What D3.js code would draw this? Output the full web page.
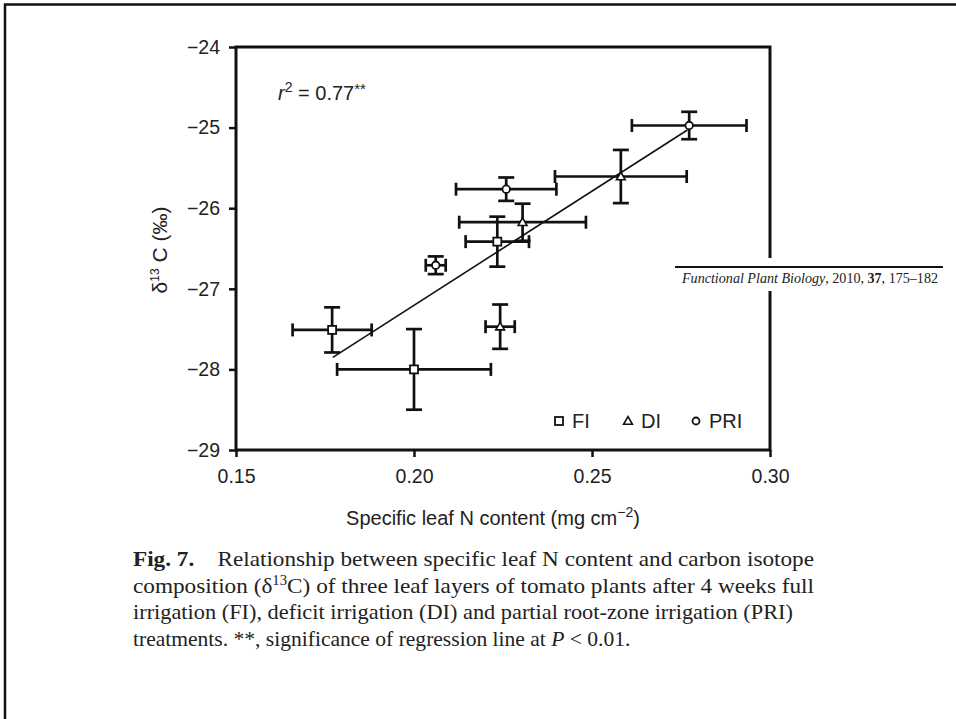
<!DOCTYPE html>
<html>
<head>
<meta charset="utf-8">
<script src="https://cdn.jsdelivr.net/npm/d3@7"></script>
<style>
  html, body { margin: 0; padding: 0; background: #fff; }
  svg { display: block; }
  .sans { font-family: "Liberation Sans", Arial, Helvetica, sans-serif; }
  .serif { font-family: "Liberation Serif", "Times New Roman", serif; }
</style>
</head>
<body>
<svg id="chart" width="956" height="719"></svg>
<script>
// Treatment groups: full (FI), deficit (DI) and partial root-zone (PRI) irrigation
const groups = ["FI", "DI", "PRI"];
const groupShape = ["square", "triangle", "circle"];

// Specific leaf N content (mg cm-2), three leaf layers per treatment
const fiN   = [0.177, 0.200, 0.2234];
const diN   = [0.2305, 0.2581, 0.2242];
const priN  = [0.2259, 0.2773, 0.2061];
// delta 13C (per mil)
const fiC   = [-27.51, -28.00, -26.415];
const diC   = [-26.174, -25.607, -27.47];
const priC  = [-25.764, -24.974, -26.708];
// Error bars: N (x) and delta 13C (y)
const fiNErr  = [0.0111, 0.0216, 0.0089];
const diNErr  = [0.0178, 0.0185, 0.0041];
const priNErr = [0.0141, 0.0161, 0.0028];
const fiCErr  = [0.28, 0.50, 0.31];
const diCErr  = [0.23, 0.33, 0.275];
const priCErr = [0.145, 0.17, 0.11];

// Regression line end points (x, y)
const fitX = [0.1772, 0.2768];
const fitY = [-27.85, -25.03];

// Axis ticks
const xTicks = [0.15, 0.20, 0.25, 0.30];
const yTicks = [-29, -28, -27, -26, -25, -24];

const svg = d3.select("#chart");

// page frame (top and left rules)
svg.append("line").attr("x1", 4).attr("x2", 956).attr("y1", 4.5).attr("y2", 4.5)
  .attr("stroke", "#111").attr("stroke-width", 2.5);
svg.append("line").attr("x1", 5).attr("x2", 5).attr("y1", 4).attr("y2", 719)
  .attr("stroke", "#111").attr("stroke-width", 2.5);

const x = d3.scaleLinear().domain([0.15, 0.30]).range([236, 770]);
const y = d3.scaleLinear().domain([-29, -24]).range([450, 47]);

const fmtMinus = d => d3.format(".0f")(d).replace("-", "\u2013");

// axes
const xAxis = d3.axisBottom(x).tickValues(xTicks).tickFormat(d3.format(".2f"))
  .tickSize(7).tickPadding(12);
const yAxis = d3.axisLeft(y).tickValues(yTicks).tickFormat(fmtMinus)
  .tickSize(7).tickPadding(9);

const gx = svg.append("g").attr("transform", `translate(0,${y(-29)})`).call(xAxis);
const gy = svg.append("g").attr("transform", `translate(${x(0.15)},0)`).call(yAxis);
[gx, gy].forEach(g => {
  g.select(".domain").remove();
  g.selectAll(".tick line").attr("stroke", "#111").attr("stroke-width", 2.5);
  g.selectAll(".tick text").attr("class", "sans").attr("font-size", 19.5).attr("fill", "#222");
});

// plot box
svg.append("rect")
  .attr("x", x(0.15)).attr("y", y(-24))
  .attr("width", x(0.30) - x(0.15)).attr("height", y(-29) - y(-24))
  .attr("fill", "none").attr("stroke", "#111").attr("stroke-width", 3);

// regression line
svg.append("line")
  .attr("x1", x(fitX[0])).attr("y1", y(fitY[0]))
  .attr("x2", x(fitX[1])).attr("y2", y(fitY[1]))
  .attr("stroke", "#111").attr("stroke-width", 1.6);

// points with error bars
const series = [
  { name: groups[0], shape: groupShape[0], n: fiN,  c: fiC,  ne: fiNErr,  ce: fiCErr },
  { name: groups[1], shape: groupShape[1], n: diN,  c: diC,  ne: diNErr,  ce: diCErr },
  { name: groups[2], shape: groupShape[2], n: priN, c: priC, ne: priNErr, ce: priCErr }
];

function drawMarker(g, shape, cx, cy, s) {
  if (shape === "square") {
    g.append("rect").attr("x", cx - s / 2).attr("y", cy - s / 2).attr("width", s).attr("height", s)
      .attr("fill", "#fff").attr("stroke", "#111").attr("stroke-width", 1.8);
  } else if (shape === "triangle") {
    const h = s * 0.9;
    g.append("path")
      .attr("d", `M${cx},${cy - h * 0.6}L${cx + s * 0.55},${cy + h * 0.45}L${cx - s * 0.55},${cy + h * 0.45}Z`)
      .attr("fill", "#fff").attr("stroke", "#111").attr("stroke-width", 1.6);
  } else {
    g.append("circle").attr("cx", cx).attr("cy", cy).attr("r", s / 2)
      .attr("fill", "#fff").attr("stroke", "#111").attr("stroke-width", 1.8);
  }
}

const capY = 8, capX = 6.5;
const pts = svg.append("g");
series.forEach(sr => {
  sr.n.forEach((nv, i) => {
    const g = pts.append("g");
    const cx = x(nv), cy = y(sr.c[i]);
    const x0 = x(nv - sr.ne[i]), x1 = x(nv + sr.ne[i]);
    const y0 = y(sr.c[i] + sr.ce[i]), y1 = y(sr.c[i] - sr.ce[i]);
    const ln = (a, b, c, d) => g.append("line")
      .attr("x1", a).attr("y1", b).attr("x2", c).attr("y2", d)
      .attr("stroke", "#111").attr("stroke-width", 2.7);
    ln(x0, cy, x1, cy);
    ln(x0, cy - capX, x0, cy + capX);
    ln(x1, cy - capX, x1, cy + capX);
    ln(cx, y0, cx, y1);
    ln(cx - capY, y0, cx + capY, y0);
    ln(cx - capY, y1, cx + capY, y1);
    drawMarker(g, sr.shape, cx, cy, sr.shape === "circle" ? 7.5 : 8);
  });
});

// legend
const legendX = [559, 628, 696];
series.forEach((sr, i) => {
  drawMarker(svg, sr.shape, legendX[i], 421, sr.shape === "circle" ? 7 : 8);
  svg.append("text").attr("class", "sans").attr("x", legendX[i] + 13).attr("y", 428)
    .attr("font-size", 20).attr("fill", "#222").text(sr.name);
});

// r-squared annotation
const r2 = svg.append("text").attr("class", "sans").attr("x", 278).attr("y", 100)
  .attr("font-size", 20).attr("fill", "#222");
r2.append("tspan").attr("font-style", "italic").text("r");
r2.append("tspan").attr("dy", -8).attr("font-size", 14).text("2");
r2.append("tspan").attr("dy", 8).text(" = 0.77");
r2.append("tspan").attr("dy", -6).attr("font-size", 15).text("**");

// axis titles
const xt = svg.append("text").attr("class", "sans").attr("x", 493).attr("y", 525)
  .attr("text-anchor", "middle").attr("font-size", 20).attr("fill", "#222");
xt.append("tspan").text("Specific leaf N content (mg cm");
xt.append("tspan").attr("dy", -8).attr("font-size", 14).text("\u22122");
xt.append("tspan").attr("dy", 8).text(")");

const yt = svg.append("text").attr("class", "sans")
  .attr("transform", "translate(167,250) rotate(-90)")
  .attr("text-anchor", "middle").attr("font-size", 21).attr("fill", "#222");
yt.append("tspan").text("\u03b4");
yt.append("tspan").attr("dy", -8).attr("font-size", 12).text("13");
yt.append("tspan").attr("dy", 8).text(" C (\u2030)");

// journal banner cutting the right edge of the box
svg.append("rect").attr("x", 660).attr("y", 258).attr("width", 296).attr("height", 33).attr("fill", "#fff");
svg.append("line").attr("x1", 675).attr("x2", 943).attr("y1", 267).attr("y2", 267)
  .attr("stroke", "#111").attr("stroke-width", 2.2);
const jb = svg.append("text").attr("class", "serif").attr("x", 682).attr("y", 283)
  .attr("font-size", 14).attr("fill", "#222")
  .attr("textLength", 256).attr("lengthAdjust", "spacingAndGlyphs");
jb.append("tspan").attr("font-style", "italic").text("Functional Plant Biology");
jb.append("tspan").text(", 2010, ");
jb.append("tspan").attr("font-weight", "bold").text("37");
jb.append("tspan").text(", 175\u2013182");

// figure caption
const capLines = [
  [{ t: "Fig. 7.", b: true }, { t: "\u2003Relationship between specific leaf N content and carbon isotope" }],
  [{ t: "composition (\u03b4" }, { t: "13", sup: true }, { t: "C) of three leaf layers of tomato plants after 4 weeks full", after: true }],
  [{ t: "irrigation (FI), deficit irrigation (DI) and partial root-zone irrigation (PRI)" }],
  [{ t: "treatments. **, significance of regression line at " }, { t: "P", i: true }, { t: " < 0.01." }]
];
const capBase = [566, 592.5, 619, 645.5];
const capEnd = [814, 814, 793, null];
capLines.forEach((parts, li) => {
  const t = svg.append("text").attr("class", "serif").attr("font-size", 22).attr("fill", "#222");
  if (capEnd[li]) {
    t.attr("x", 133).attr("y", capBase[li])
      .attr("textLength", capEnd[li] - 133).attr("lengthAdjust", "spacingAndGlyphs");
  } else {
    // last line: slightly condensed as a whole
    t.attr("transform", `translate(133,${capBase[li]}) scale(0.98,1)`);
  }
  parts.forEach(p => {
    const s = t.append("tspan").text(p.t);
    if (p.b) s.attr("font-weight", "bold");
    if (p.i) s.attr("font-style", "italic");
    if (p.sup) s.attr("dy", -8).attr("font-size", 14);
    if (p.after) s.attr("dy", 8);
  });
});
</script>
</body>
</html>
